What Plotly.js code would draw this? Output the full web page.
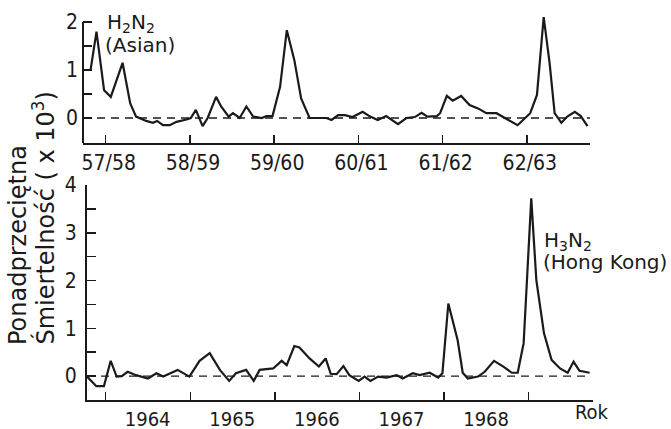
<!DOCTYPE html>
<html>
<head>
<meta charset="utf-8">
<script src="https://cdn.plot.ly/plotly-3.0.1.min.js"></script>
<style>html,body{margin:0;padding:0;background:#fff;}#chart{width:671px;height:429px;}</style>
</head>
<body>
<div id="chart"></div>
<script>
// ---- Top panel: H2N2 (Asian) seasons 1957/58 - 1962/63 ----
const topYears = [1957.74, 1957.82, 1957.89, 1957.98, 1958.06, 1958.20, 1958.29, 1958.36, 1958.48, 1958.56, 1958.61, 1958.68, 1958.76, 1958.84, 1958.96,
  1959.01, 1959.07, 1959.15, 1959.21, 1959.31, 1959.37, 1959.46, 1959.51, 1959.59, 1959.67, 1959.75, 1959.85, 1959.91, 1959.98,
  1960.07, 1960.15, 1960.24, 1960.32, 1960.42, 1960.50, 1960.62, 1960.68, 1960.76, 1960.84, 1960.93,
  1961.05, 1961.14, 1961.23, 1961.33, 1961.47, 1961.57, 1961.67, 1961.75, 1961.82, 1961.93, 1961.97,
  1962.05, 1962.12, 1962.22, 1962.32, 1962.42, 1962.52, 1962.64, 1962.76, 1962.89,
  1963.04, 1963.12, 1963.20, 1963.27, 1963.33, 1963.41, 1963.48, 1963.57, 1963.64, 1963.72];
const topExcess = [1.0, 1.0, 1.8, 0.58, 0.44, 1.15, 0.31, 0.03, -0.06, -0.1, -0.06, -0.15, -0.15, -0.08, -0.03,
  0, 0.17, -0.17, 0, 0.44, 0.24, 0.03, 0.1, 0, 0.24, 0.03, 0, 0.04, 0.04,
  0.65, 1.83, 1.2, 0.41, 0, 0, 0, -0.04, 0.06, 0.06, 0.02,
  0.13, 0.03, -0.04, 0.04, -0.13, 0, 0.02, 0.11, 0.03, 0.04, 0.1,
  0.46, 0.36, 0.46, 0.27, 0.2, 0.1, 0.1, -0.02, -0.15,
  0.1, 0.48, 2.1, 1.15, 0.1, -0.1, 0.03, 0.13, 0.04, -0.17];
const topTickVals = [1958, 1959, 1960, 1961, 1962, 1963];
const topTickText = ['57/58', '58/59', '59/60', '60/61', '61/62', '62/63'];

// ---- Bottom panel: H3N2 (Hong Kong) 1964 - 1968 ----
const botYears = [1963.78, 1963.85, 1963.89, 1963.98,
  1964.06, 1964.13, 1964.19, 1964.26, 1964.36, 1964.50, 1964.60, 1964.68, 1964.85, 1964.99,
  1965.11, 1965.23, 1965.35, 1965.46, 1965.54, 1965.66, 1965.75, 1965.82, 1965.98,
  1966.08, 1966.14, 1966.23, 1966.29, 1966.41, 1966.52, 1966.60, 1966.66, 1966.73, 1966.81, 1966.88, 1966.99,
  1967.06, 1967.13, 1967.22, 1967.32, 1967.44, 1967.51, 1967.63, 1967.71, 1967.83, 1967.93, 1967.98,
  1968.05, 1968.16, 1968.22, 1968.28, 1968.40, 1968.48, 1968.59, 1968.70, 1968.80, 1968.87, 1968.94,
  1969.03, 1969.09, 1969.18, 1969.27, 1969.37, 1969.46, 1969.53, 1969.60, 1969.72];
const botExcess = [-0.01, -0.15, -0.21, -0.21,
  0.32, -0.01, 0.0, 0.09, 0.02, -0.05, 0.06, -0.01, 0.13, -0.01,
  0.32, 0.48, 0.13, -0.1, 0.06, 0.13, -0.1, 0.13, 0.16,
  0.32, 0.23, 0.63, 0.6, 0.37, 0.2, 0.37, 0.05, 0.04, 0.21, 0.02, -0.1,
  -0.01, -0.1, -0.01, -0.03, 0.02, -0.05, 0.06, 0.02, 0.07, -0.03, 0.06,
  1.52, 0.75, 0.07, -0.05, -0.01, 0.09, 0.32, 0.2, 0.07, 0.07, 0.69,
  3.72, 2.01, 0.9, 0.34, 0.16, 0.07, 0.3, 0.11, 0.07];
const botTickVals = [1964, 1965, 1966, 1967, 1968, 1969];
const botTickText = ['1964', '1965', '1966', '1967', '1968', ''];

const topYTicks = [0, 0.5, 1, 1.5, 2];
const topYText = ['0', '', '1', '', '2'];
const botYTicks = [0, 0.5, 1, 1.5, 2, 2.5, 3, 3.5, 4];
const botYText = ['0', '', '1', '', '2', '', '3', '', '4'];

const ink = '#1a1a1a';
const tickFont = {family: 'DejaVu Sans Condensed, DejaVu Sans, sans-serif', size: 21, color: ink};
const botTickFont = {family: 'DejaVu Sans Condensed, DejaVu Sans, sans-serif', size: 20, color: ink};
const textFont = {family: 'DejaVu Sans, sans-serif', size: 20, color: ink};
const titleFont = {family: 'DejaVu Sans, sans-serif', size: 24, color: ink};

const traces = [
  {x: topYears, y: topExcess, xaxis: 'x', yaxis: 'y', type: 'scatter', mode: 'lines',
   line: {color: ink, width: 2.2}, hoverinfo: 'skip'},
  {x: botYears, y: botExcess, xaxis: 'x2', yaxis: 'y2', type: 'scatter', mode: 'lines',
   line: {color: ink, width: 2.2}, hoverinfo: 'skip'}
];

const layout = {
  width: 671, height: 429,
  margin: {l: 0, r: 0, t: 0, b: 0},
  paper_bgcolor: '#fff', plot_bgcolor: 'rgba(0,0,0,0)',
  showlegend: false,
  xaxis: {domain: [0.1237, 0.8793], range: [1957.73, 1963.75], anchor: 'y',
    showline: true, linecolor: ink, linewidth: 2, showgrid: false, zeroline: false,
    ticks: 'inside', ticklen: 8, tickwidth: 1.5, tickcolor: ink,
    tickvals: topTickVals, ticktext: topTickText, tickfont: tickFont,
    ticklabelshift: 3, ticklabelstandoff: 0},
  yaxis: {domain: [0.6667, 0.9622], range: [-0.52, 2.12], anchor: 'x',
    showline: false, showgrid: false, zeroline: false,
    ticks: 'inside', ticklen: 9, tickwidth: 1.5, tickcolor: ink,
    tickvals: topYTicks, ticktext: topYText, tickfont: tickFont, ticklabelstandoff: 4},
  xaxis2: {domain: [0.1297, 0.8838], range: [1963.78, 1969.76], anchor: 'y2',
    showline: true, linecolor: ink, linewidth: 2, showgrid: false, zeroline: false,
    ticks: 'inside', ticklen: 8, tickwidth: 1.5, tickcolor: ink,
    tickvals: botTickVals, ticktext: botTickText, tickfont: botTickFont,
    ticklabelshift: 42, ticklabelstandoff: 0},
  yaxis2: {domain: [0.0676, 0.5688], range: [-0.5, 4.0], anchor: 'x2',
    showline: true, linecolor: ink, linewidth: 2, showgrid: false, zeroline: false,
    ticks: 'inside', ticklen: 9, tickwidth: 1.5, tickcolor: ink,
    tickvals: botYTicks, ticktext: botYText, tickfont: tickFont, ticklabelstandoff: 4},
  shapes: [
    {type: 'line', xref: 'x domain', yref: 'y', x0: 0, x1: 0, y0: -0.52, y1: 2,
     line: {color: ink, width: 2}},
    {type: 'line', xref: 'x domain', yref: 'y', x0: 0, x1: 1, y0: 0, y1: 0,
     line: {color: ink, width: 1.3, dash: '8px,6px'}},
    {type: 'line', xref: 'x2 domain', yref: 'y2', x0: 0, x1: 0.995, y0: 0, y1: 0,
     line: {color: ink, width: 1.3, dash: '8px,6px'}}
  ],
  annotations: [
    {xref: 'paper', yref: 'paper', x: 105/671, y: 1 - 8/429, xanchor: 'left', yanchor: 'top',
     text: 'H<sub>2</sub>N<sub>2</sub>', showarrow: false, font: textFont},
    {xref: 'paper', yref: 'paper', x: 103/671, y: 1 - 31/429, xanchor: 'left', yanchor: 'top',
     text: '(Asian)', showarrow: false, font: textFont},
    {xref: 'paper', yref: 'paper', x: 542/671, y: 1 - 226/429, xanchor: 'left', yanchor: 'top',
     text: 'H<sub>3</sub>N<sub>2</sub>', showarrow: false, font: textFont},
    {xref: 'paper', yref: 'paper', x: 541/671, y: 1 - 248/429, xanchor: 'left', yanchor: 'top',
     text: '(Hong Kong)', showarrow: false, font: textFont},
    {xref: 'paper', yref: 'paper', x: 592/671, y: 1 - 412/429, xanchor: 'center', yanchor: 'middle',
     text: 'Rok', showarrow: false, font: botTickFont},
    {xref: 'paper', yref: 'paper', x: 18/671, y: 1 - 347/429, xanchor: 'center', yanchor: 'bottom',
     text: 'Ponadprzeciętna', textangle: -90, showarrow: false, font: titleFont},
    {xref: 'paper', yref: 'paper', x: 43/671, y: 1 - 347/429, xanchor: 'center', yanchor: 'bottom',
     text: 'Śmiertelność ( x 10<sup>3</sup>)', textangle: -90, showarrow: false, font: titleFont}
  ]
};

Plotly.newPlot('chart', traces, layout, {staticPlot: true, displayModeBar: false});
</script>
</body>
</html>
